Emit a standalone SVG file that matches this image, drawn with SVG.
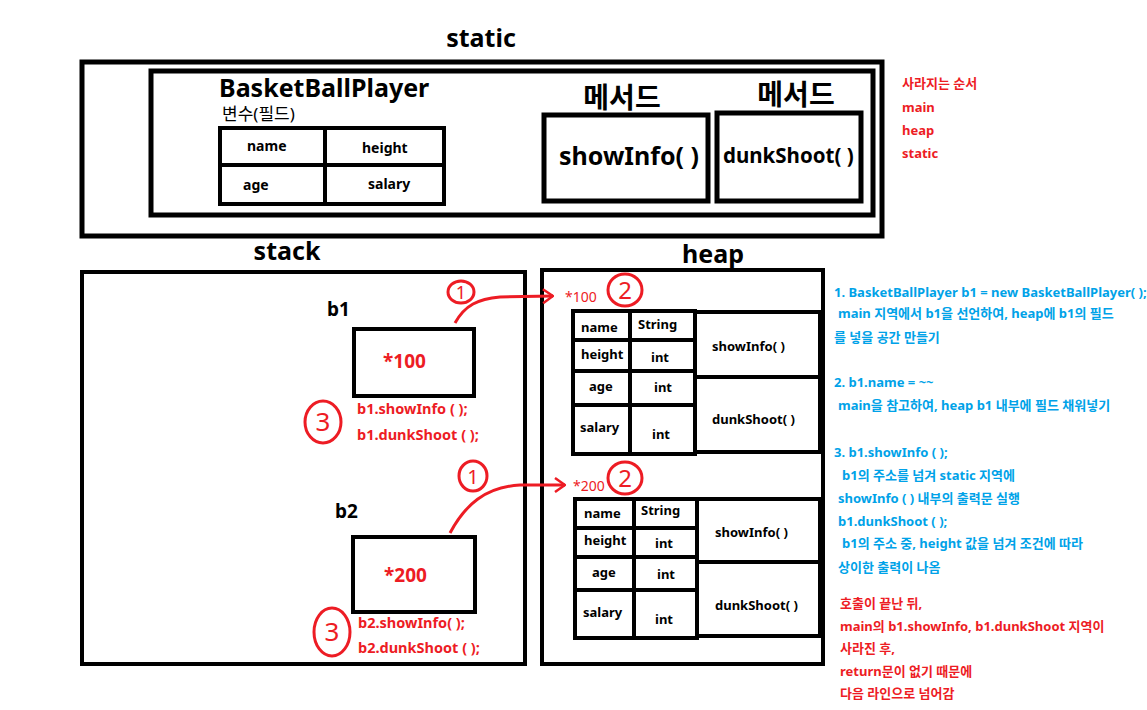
<svg xmlns="http://www.w3.org/2000/svg" width="1147" height="710" viewBox="0 0 1147 710">
<defs>
<style>
text{font-family:"Noto Sans","Noto Sans CJK KR",sans-serif;font-weight:bold;}
.box{fill:none;stroke:#000;stroke-width:5;}
.tb{fill:none;stroke:#000;stroke-width:4;}
.h1{font-size:25px;fill:#000;}
.mh{font-size:28px;fill:#000;}
.k{font-size:14px;fill:#000;}
.m{font-size:13px;fill:#000;}
.red{fill:#ED1C24;}
.blue{fill:#00A2E8;font-size:13px;}
.rt{fill:#ED1C24;font-size:13px;}
.call{fill:#ED1C24;font-size:14.5px;}
.circ{fill:none;stroke:#ED1C24;stroke-width:3;}
.num{fill:#ED1C24;font-size:22px;font-weight:normal;text-anchor:middle;}
.conn{fill:none;stroke:#ED1C24;stroke-width:3;}
</style>
<marker id="ah" viewBox="0 0 12 16" refX="11" refY="8" markerWidth="12" markerHeight="16" markerUnits="userSpaceOnUse" orient="auto">
<path d="M1,1 L11,8 L1,15" fill="none" stroke="#ED1C24" stroke-width="2.5"/>
</marker>
</defs>
<rect width="1147" height="710" fill="#fff"/>

<g id="static-area">
<text x="481" y="47" class="h1" text-anchor="middle">static</text>
<rect x="82" y="62" width="800" height="174" class="box"/>
<rect x="151" y="71" width="722" height="144" class="box"/>
</g>

<g id="class-fields">
<text x="219" y="97" class="h1">BasketBallPlayer</text>
<text x="222" y="120" style="font-size:17px;font-weight:normal">변수(필드)</text>
<rect x="220" y="128" width="224" height="76" class="tb"/>
<line x1="220" y1="165" x2="446" y2="165" stroke="#000" stroke-width="4"/>
<line x1="325" y1="128" x2="325" y2="204" stroke="#000" stroke-width="4"/>
<text x="247" y="151" class="k">name</text>
<text x="362" y="153" class="k">height</text>
<text x="243" y="190" class="k">age</text>
<text x="368" y="189" class="k">salary</text>
</g>

<g id="static-showInfo">
<text x="622" y="108" class="mh" text-anchor="middle">메서드</text>
<rect x="544" y="115" width="164" height="86" class="box"/>
<text x="559" y="165" style="font-size:25px">showInfo( )</text>
</g>

<g id="static-dunkShoot">
<text x="796" y="105" class="mh" text-anchor="middle">메서드</text>
<rect x="717" y="113" width="144" height="88" class="box"/>
<text x="723" y="163" style="font-size:20.5px">dunkShoot( )</text>
</g>

<g id="order-note">
<text x="902" y="88" class="rt">사라지는 순서</text>
<text x="902" y="112" class="rt">main</text>
<text x="902" y="135" class="rt">heap</text>
<text x="902" y="158" class="rt">static</text>
</g>

<g id="stack">
<text x="287" y="260" class="h1" text-anchor="middle">stack</text>
<rect x="82" y="272" width="443" height="392" class="tb"/>
</g>

<g id="heap">
<text x="713" y="263" class="h1" text-anchor="middle">heap</text>
<rect x="542" y="270" width="281" height="394" class="tb"/>
</g>

<g id="b1">
<text x="327" y="316" style="font-size:19px">b1</text>
<rect x="354" y="329" width="120" height="67" class="tb"/>
<text x="383" y="368" class="red" style="font-size:19px">*100</text>
<text x="357" y="414" class="call">b1.showInfo ( );</text>
<text x="357" y="440" class="call">b1.dunkShoot ( );</text>
<ellipse cx="323" cy="422" rx="18" ry="21" class="circ"/>
<text x="323" y="431" class="num" style="font-size:26px">3</text>
<ellipse cx="461" cy="292" rx="13" ry="11" class="circ"/>
<text x="461" y="299" class="num" style="font-size:18px">1</text>
</g>

<g id="b2">
<text x="335" y="518" style="font-size:19px">b2</text>
<rect x="353" y="537" width="122" height="75" class="tb"/>
<text x="384" y="582" class="red" style="font-size:19px">*200</text>
<text x="358" y="628" class="call">b2.showInfo( );</text>
<text x="358" y="653" class="call">b2.dunkShoot ( );</text>
<ellipse cx="332" cy="632" rx="18" ry="24" class="circ"/>
<text x="332" y="641" class="num" style="font-size:26px">3</text>
<ellipse cx="473" cy="476" rx="14" ry="15" class="circ"/>
<text x="473" y="484" class="num" style="font-size:20px">1</text>
</g>

<g id="heap-b1">
<text x="565" y="302" class="red" style="font-size:14px;font-weight:normal">*100</text>
<ellipse cx="625" cy="290" rx="17" ry="16" class="circ"/>
<text x="625" y="299" class="num" style="font-size:24px">2</text>
<rect x="573" y="311" width="122" height="143" class="tb"/>
<line x1="630" y1="311" x2="630" y2="454" stroke="#000" stroke-width="4"/>
<line x1="573" y1="340" x2="697" y2="340" stroke="#000" stroke-width="4"/>
<line x1="573" y1="371" x2="697" y2="371" stroke="#000" stroke-width="4"/>
<line x1="573" y1="405" x2="695" y2="405" stroke="#000" stroke-width="4"/>
<rect x="695" y="312" width="125" height="140" class="tb"/>
<line x1="695" y1="377" x2="822" y2="377" stroke="#000" stroke-width="4"/>
<text x="581" y="332" class="m">name</text>
<text x="638" y="329" class="m">String</text>
<text x="581" y="359" class="m">height</text>
<text x="651" y="362" class="m">int</text>
<text x="589" y="391" class="m">age</text>
<text x="654" y="392" class="m">int</text>
<text x="580" y="432" class="m">salary</text>
<text x="652" y="439" class="m">int</text>
<text x="712" y="351" class="m">showInfo( )</text>
<text x="712" y="424" class="m">dunkShoot( )</text>
</g>

<g id="heap-b2">
<text x="573" y="491" class="red" style="font-size:14px;font-weight:normal">*200</text>
<ellipse cx="625" cy="478" rx="17" ry="16" class="circ"/>
<text x="625" y="487" class="num" style="font-size:24px">2</text>
<rect x="575" y="499" width="122" height="139" class="tb"/>
<line x1="634" y1="499" x2="634" y2="638" stroke="#000" stroke-width="4"/>
<line x1="575" y1="528" x2="699" y2="528" stroke="#000" stroke-width="4"/>
<line x1="575" y1="557" x2="699" y2="557" stroke="#000" stroke-width="4"/>
<line x1="575" y1="590" x2="697" y2="590" stroke="#000" stroke-width="4"/>
<rect x="697" y="499" width="123" height="137" class="tb"/>
<line x1="697" y1="562" x2="822" y2="562" stroke="#000" stroke-width="4"/>
<text x="584" y="518" class="m">name</text>
<text x="641" y="515" class="m">String</text>
<text x="584" y="545" class="m">height</text>
<text x="655" y="548" class="m">int</text>
<text x="592" y="577" class="m">age</text>
<text x="657" y="579" class="m">int</text>
<text x="583" y="617" class="m">salary</text>
<text x="655" y="624" class="m">int</text>
<text x="715" y="537" class="m">showInfo( )</text>
<text x="715" y="610" class="m">dunkShoot( )</text>
</g>

<g id="connectors">
<path d="M455,323 C465,305 478,299 500,297 L553,296" class="conn" marker-end="url(#ah)"/>
<path d="M450,533 C465,505 485,487 520,485 L565,485" class="conn" marker-end="url(#ah)"/>
</g>

<g id="explanation">
<text x="834" y="297" class="blue">1. BasketBallPlayer b1 = new BasketBallPlayer( );</text>
<text x="838" y="318" class="blue">main 지역에서 b1을 선언하여, heap에 b1의 필드</text>
<text x="834" y="342" class="blue">를 넣을 공간 만들기</text>
<text x="834" y="387" class="blue">2. b1.name = ~~</text>
<text x="838" y="410" class="blue">main을 참고하여, heap b1 내부에 필드 채워넣기</text>
<text x="834" y="457" class="blue">3. b1.showInfo ( );</text>
<text x="842" y="480" class="blue">b1의 주소를 넘겨 static 지역에</text>
<text x="838" y="503" class="blue">showInfo ( ) 내부의 출력문 실행</text>
<text x="838" y="526" class="blue">b1.dunkShoot ( );</text>
<text x="842" y="548" class="blue">b1의 주소 중, height 값을 넘겨 조건에 따라</text>
<text x="838" y="572" class="blue">상이한 출력이 나옴</text>
</g>

<g id="return-note">
<text x="840" y="608" class="rt">호출이 끝난 뒤,</text>
<text x="840" y="631" class="rt">main의 b1.showInfo, b1.dunkShoot 지역이</text>
<text x="840" y="653" class="rt">사라진 후,</text>
<text x="840" y="676" class="rt">return문이 없기 때문에</text>
<text x="840" y="698" class="rt">다음 라인으로 넘어감</text>
</g>
</svg>
